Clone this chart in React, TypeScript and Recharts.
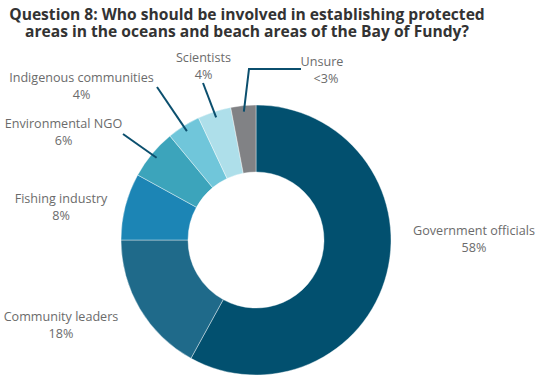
import { PieChart, Pie, Cell } from "recharts";

const categories = [
  "Government officials",
  "Community leaders",
  "Fishing industry",
  "Environmental NGO",
  "Indigenous communities",
  "Scientists",
  "Unsure",
];
const shares = [58, 17, 8, 6, 4, 4, 3];
const shareLabels = ["58%", "18%", "8%", "6%", "4%", "4%", "<3%"];
const sliceColors = ["#02506f", "#1f6a8a", "#1c85b5", "#3ca4bb", "#70c6da", "#aedfea", "#818285"];

const TITLE = [
  "Question 8: Who should be involved in establishing protected",
  "areas in the oceans and beach areas of the Bay of Fundy?",
];

// label placement relative to the pie centre (text block centre + leader line path)
const LAYOUT: { x: number; y: number }[] = [
  { x: 218, y: -1 },
  { x: -195, y: 85 },
  { x: -195, y: -33 },
  { x: -192.5, y: -108 },
  { x: -174.5, y: -154 },
  { x: -52.5, y: -174 },
  { x: 66, y: -170 },
];
const LINES: ([number, number][] | null)[] = [
  null,
  null,
  null,
  [[-133, -106]],
  [[-99, -153]],
  [[-53, -157]],
  [[-7, -171], [45, -171]],
];

const data = categories.map((name, i) => ({ name, value: shares[i] }));
const RAD = Math.PI / 180;

function renderLabel(props: any) {
  const { cx, cy, midAngle, outerRadius, index } = props;
  const pos = LAYOUT[index];
  const tx = cx + pos.x;
  const ty = cy + pos.y;
  const path = LINES[index];
  let d = "";
  if (path) {
    const sx = cx + (outerRadius - 6) * Math.cos(-midAngle * RAD);
    const sy = cy + (outerRadius - 6) * Math.sin(-midAngle * RAD);
    d = `M${sx},${sy}` + path.map(([px, py]) => ` L${cx + px},${cy + py}`).join("");
  }
  return (
    <g key={`lbl-${index}`}>
      {path && <path d={d} stroke="#0b4f6e" strokeWidth={2} fill="none" />}
      <text
        x={tx}
        y={ty - 8.5}
        textAnchor="middle"
        dominantBaseline="central"
        fill="#6b6b6b"
        fontSize={12.6}
        fontFamily="'Open Sans', sans-serif"
      >
        {categories[index]}
      </text>
      <text
        x={tx + (index === 6 ? 4 : 0)}
        y={ty + 8.5}
        textAnchor="middle"
        dominantBaseline="central"
        fill="#6b6b6b"
        fontSize={12.6}
        fontFamily="'Open Sans', sans-serif"
      >
        {shareLabels[index]}
      </text>
    </g>
  );
}

export default function App() {
  return (
    <div style={{ position: "absolute", left: 0, top: 0, width: 537, height: 376, background: "#fff" }}>
      <div
        style={{
          position: "absolute",
          left: 0,
          top: 6,
          width: 494,
          textAlign: "center",
          fontFamily: "'Open Sans', sans-serif",
          fontWeight: 700,
          fontSize: 15.6,
          lineHeight: "17px",
          color: "#333",
          whiteSpace: "nowrap",
        }}
      >
        {TITLE[0]}
        <br />
        {TITLE[1]}
      </div>
      <PieChart width={537} height={376} margin={{ top: 0, right: 0, bottom: 0, left: 0 }}>
        <Pie
          data={data}
          dataKey="value"
          nameKey="name"
          cx={256}
          cy={240}
          outerRadius={135}
          innerRadius={68}
          startAngle={90}
          endAngle={-270}
          stroke="#ffffff"
          strokeWidth={0.4}
          label={renderLabel}
          labelLine={false}
          isAnimationActive={false}
        >
          {data.map((d, i) => (
            <Cell key={d.name} fill={sliceColors[i]} />
          ))}
        </Pie>
      </PieChart>
    </div>
  );
}
